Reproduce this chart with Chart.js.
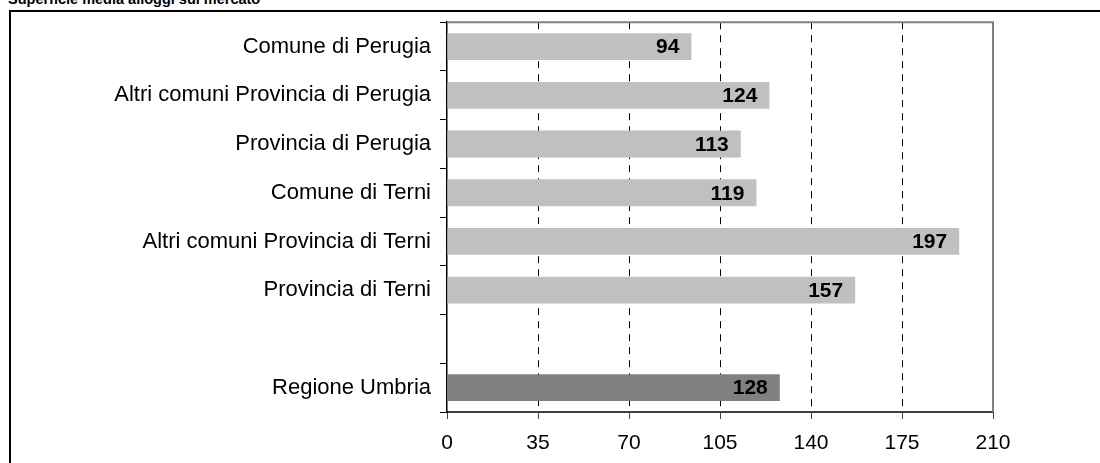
<!DOCTYPE html>
<html>
<head>
<meta charset="utf-8">
<script src="https://cdn.jsdelivr.net/npm/chart.js@4/dist/chart.umd.min.js"></script>
<style>
  body { margin: 0; background: #fff; overflow: hidden; }
  #wrap { position: relative; width: 1100px; height: 463px; overflow: hidden; }
  #title { position: absolute; left: 8px; top: -9px; font: bold 14.5px "Liberation Sans", Arial, sans-serif; color: #000; white-space: nowrap; }
  #box { position: absolute; left: 9px; top: 10px; width: 1200px; height: 600px; border-top: 2px solid #000; border-left: 2px solid #000; }
  #myChart { position: absolute; left: 0; top: 0; }
</style>
</head>
<body>
<div id="wrap">
  <div id="title">Superficie media alloggi sul mercato</div>
  <div id="box"></div>
  <canvas id="myChart" width="1100" height="463"></canvas>
</div>
<script>
// dati
var categorie = ["Comune di Perugia", "Altri comuni Provincia di Perugia", "Provincia di Perugia",
    "Comune di Terni", "Altri comuni Provincia di Terni", "Provincia di Terni", "", "Regione Umbria"];
var superficie = [94, 124, 113, 119, 197, 157, null, 128];
var tickX = [0, 35, 70, 105, 140, 175, 210];

var FONT = '"Liberation Sans", Arial, sans-serif';

// etichette dei valori dentro la barra
var etichette = {
    id: 'etichette',
    afterDatasetsDraw: function(chart) {
        var ctx = chart.ctx;
        var meta = chart.getDatasetMeta(0);
        ctx.save();
        ctx.font = 'bold 21px ' + FONT;
        ctx.fillStyle = '#000';
        ctx.textAlign = 'right';
        ctx.textBaseline = 'middle';
        meta.data.forEach(function(bar, i) {
            if (superficie[i] == null) return;
            ctx.fillText(superficie[i], bar.x - 12, bar.y + 1);
        });
        ctx.restore();
    }
};

// bordo grigio sopra e a destra dell'area del grafico
var cornice = {
    id: 'cornice',
    beforeDatasetsDraw: function(chart) {
        var a = chart.chartArea;
        var ctx = chart.ctx;
        ctx.save();
        ctx.strokeStyle = '#808080';
        ctx.lineWidth = 2;
        ctx.beginPath();
        ctx.moveTo(a.left, a.top);
        ctx.lineTo(a.right, a.top);
        ctx.lineTo(a.right, a.bottom);
        ctx.stroke();
        ctx.restore();
    }
};

new Chart(document.getElementById("myChart"), {
    type: 'bar',
    data: {
        labels: categorie,
        datasets: [{
            data: superficie,
            backgroundColor: function(c) {
                return c.index == categorie.length - 1 ? '#808080' : '#c0c0c0';
            },
            borderWidth: 0,
            categoryPercentage: 1,
            barPercentage: 0.55
        }]
    },
    options: {
        indexAxis: 'y',
        responsive: false,
        animation: false,
        layout: { padding: { top: 19, right: 107, left: 0, bottom: 0 } },
        plugins: { legend: { display: false }, tooltip: { enabled: false } },
        scales: {
            x: {
                min: 0,
                max: 210,
                afterBuildTicks: function(scale) {
                    scale.ticks = tickX.map(function(v) { return { value: v }; });
                },
                afterFit: function(scale) { scale.height = 51; },
                ticks: { font: { family: FONT, size: 21 }, color: '#000', padding: 12, maxRotation: 0 },
                grid: {
                    color: function(c) {
                        if (!c.tick) return '#000';
                        return (c.tick.value == 0 || c.tick.value == 210) ? 'rgba(0,0,0,0)' : '#000';
                    },
                    tickColor: '#404040',
                    tickLength: 7,
                    lineWidth: 1
                },
                border: { color: '#404040', width: 2, dash: [7, 6] }
            },
            y: {
                afterFit: function(scale) { scale.width = 447; },
                ticks: { font: { family: FONT, size: 22 }, color: '#000', padding: 9 },
                grid: { drawOnChartArea: false, tickColor: '#000', tickLength: 7, offset: true },
                border: { color: '#000', width: 1.5 }
            }
        }
    },
    plugins: [cornice, etichette]
});
</script>
</body>
</html>
